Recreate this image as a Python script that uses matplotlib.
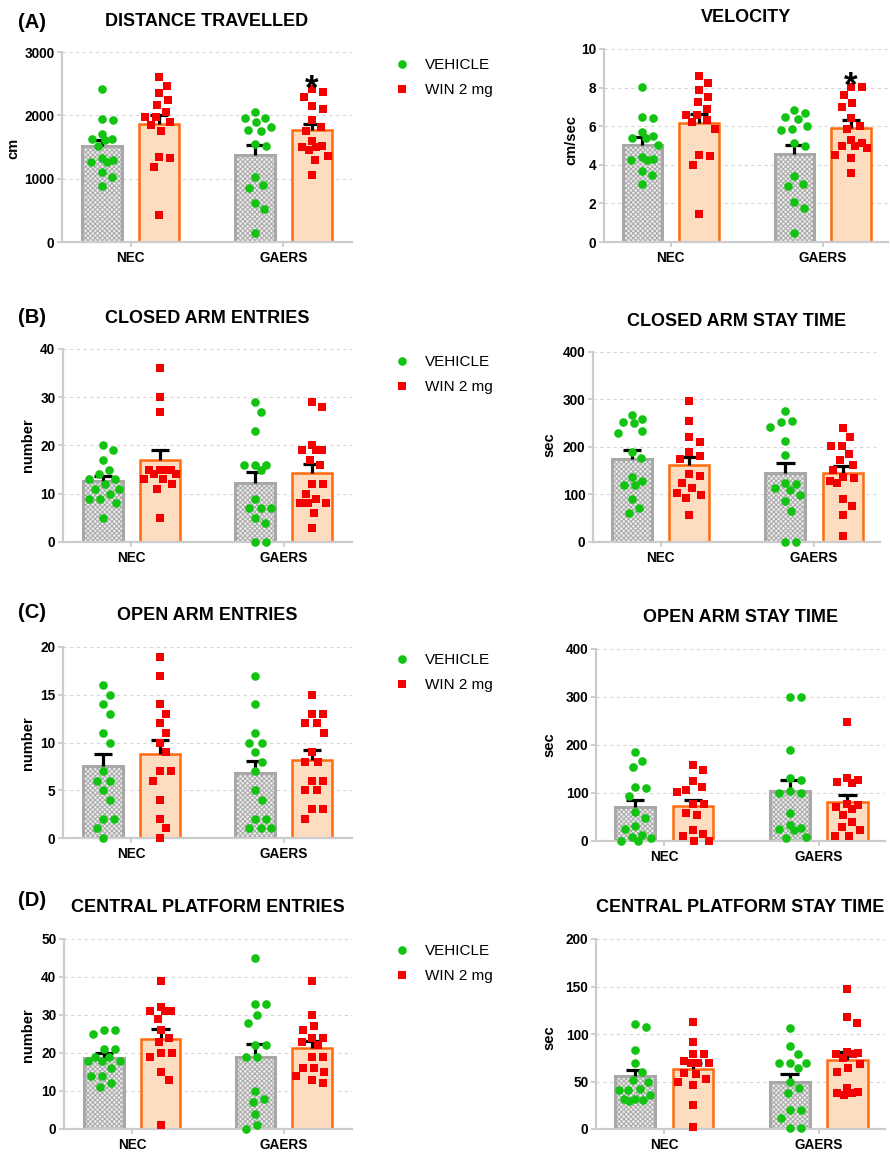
import matplotlib
matplotlib.use('Agg')
import matplotlib.pyplot as plt
from matplotlib.lines import Line2D
import numpy as np

plt.rcParams['font.family'] = ['Liberation Sans', 'DejaVu Sans']
plt.rcParams['hatch.linewidth'] = 0.7

groups = ['NEC', 'GAERS']
legend_labels = ['VEHICLE', 'WIN 2 mg']

# (A) distance travelled, cm
dist_nec_veh = [2410, 1950, 1920, 1710, 1620, 1620, 1610, 1510, 1320, 1290, 1270, 1270, 1110, 1030, 890]
dist_nec_win = [2600, 2470, 2350, 2240, 2170, 2060, 1980, 1970, 1890, 1850, 1760, 1350, 1320, 1190, 430]
dist_gaers_veh = [2050, 1960, 1960, 1900, 1820, 1770, 1750, 1540, 1510, 1020, 900, 860, 620, 520, 140]
dist_gaers_win = [2420, 2370, 2290, 2150, 2100, 1920, 1820, 1760, 1590, 1520, 1500, 1500, 1450, 1360, 1300, 1060]
dist_mean = [1520, 1860, 1370, 1770]
dist_sem = [90, 140, 155, 95]

# (A) velocity, cm/sec
vel_nec_veh = [8.05, 6.5, 6.4, 5.7, 5.5, 5.4, 5.4, 5.05, 4.4, 4.3, 4.25, 4.25, 3.7, 3.45, 3.0]
vel_nec_win = [8.6, 8.25, 7.85, 7.5, 7.25, 6.9, 6.6, 6.6, 6.3, 6.2, 5.85, 4.5, 4.45, 4.0, 1.45]
vel_gaers_veh = [6.85, 6.7, 6.5, 6.35, 6.0, 5.85, 5.8, 5.15, 5.0, 3.4, 3.0, 2.9, 2.05, 1.75, 0.45]
vel_gaers_win = [8.05, 8.05, 7.6, 7.2, 7.0, 6.4, 6.0, 5.85, 5.3, 5.15, 4.95, 4.95, 4.85, 4.5, 4.35, 3.55]
vel_mean = [5.05, 6.15, 4.55, 5.9]
vel_sem = [0.4, 0.5, 0.5, 0.4]

# (B) closed arm entries
cae_nec_veh = [20, 19, 17, 15, 14, 13, 13, 12, 11, 11, 10, 9, 9, 8, 5]
cae_nec_win = [36, 30, 27, 15, 15, 15, 15, 14, 14, 13, 13, 12, 11, 5]
cae_gaers_veh = [29, 27, 23, 16, 16, 16, 15, 9, 7, 7, 7, 5, 4, 0, 0]
cae_gaers_win = [29, 28, 20, 19, 19, 19, 17, 16, 12, 12, 10, 9, 8, 8, 8, 6, 3]
cae_mean = [12.6, 17.0, 12.3, 14.3]
cae_sem = [1.1, 2.0, 2.3, 1.9]

# (B) closed arm stay time, sec
cat_nec_veh = [268, 259, 252, 250, 233, 230, 190, 176, 136, 128, 119, 119, 91, 72, 60]
cat_nec_win = [297, 255, 220, 210, 189, 180, 174, 144, 139, 125, 113, 104, 99, 93, 57]
cat_gaers_veh = [275, 255, 252, 242, 213, 184, 125, 123, 113, 110, 98, 87, 66, 0, 0]
cat_gaers_win = [239, 220, 203, 202, 185, 172, 162, 152, 136, 134, 129, 125, 90, 75, 56, 12]
cat_mean = [175, 162, 145, 145]
cat_sem = [18, 17, 22, 15]

# (C) open arm entries
oae_nec_veh = [16, 15, 14, 13, 11, 10, 7, 6, 6, 5, 4, 2, 2, 1, 0]
oae_nec_win = [19, 17, 14, 13, 12, 11, 10, 9, 7, 7, 6, 4, 2, 1, 0]
oae_gaers_veh = [17, 14, 11, 10, 10, 9, 8, 7, 5, 4, 2, 2, 1, 1, 1]
oae_gaers_win = [15, 13, 13, 12, 12, 11, 9, 8, 8, 6, 6, 5, 5, 3, 3, 2]
oae_mean = [7.5, 8.8, 6.8, 8.2]
oae_sem = [1.3, 1.45, 1.3, 1.0]

# (C) open arm stay time, sec
oat_nec_veh = [186, 167, 154, 113, 111, 93, 60, 47, 32, 24, 12, 8, 7, 1, 0]
oat_nec_win = [159, 147, 126, 112, 107, 103, 78, 77, 58, 54, 23, 14, 10, 0, 0]
oat_gaers_veh = [300, 300, 189, 132, 128, 104, 101, 99, 59, 33, 28, 24, 22, 8, 6]
oat_gaers_win = [248, 131, 128, 122, 120, 77, 74, 71, 67, 54, 40, 29, 22, 10, 10]
oat_mean = [70, 73, 104, 81]
oat_sem = [15, 12, 24, 14]

# (D) central platform entries
cpe_nec_veh = [26, 26, 25, 21, 21, 19, 19, 18, 18, 18, 16, 14, 14, 12, 11]
cpe_nec_win = [39, 32, 31, 31, 31, 29, 26, 24, 23, 20, 20, 19, 15, 13, 1]
cpe_gaers_veh = [45, 33, 33, 30, 28, 22, 22, 19, 19, 10, 8, 7, 4, 1, 0]
cpe_gaers_win = [39, 30, 27, 26, 24, 24, 23, 22, 19, 19, 16, 16, 15, 14, 13, 12]
cpe_mean = [18.7, 23.6, 18.9, 21.2]
cpe_sem = [1.3, 2.6, 3.6, 1.9]

# (D) central platform stay time, sec
cpt_nec_veh = [111, 107, 83, 70, 60, 52, 50, 42, 41, 41, 36, 32, 32, 31, 30]
cpt_nec_win = [113, 92, 79, 79, 72, 70, 70, 69, 59, 58, 53, 49, 46, 25, 2]
cpt_gaers_veh = [106, 87, 79, 70, 70, 70, 64, 50, 43, 38, 20, 20, 12, 1, 1]
cpt_gaers_win = [147, 118, 112, 81, 80, 79, 79, 75, 68, 64, 60, 43, 39, 38, 38, 36]
cpt_mean = [56, 63, 49.5, 73]
cpt_sem = [6.5, 7, 8, 8]

W, H = 890, 1153
fig = plt.figure(figsize=(W / 100, H / 100), dpi=100)

GREEN = '#12c312'
RED = '#f50000'
VEH_EDGE = '#a8a8a8'
VEH_FACE = '#ececec'
WIN_FACE = '#fddcc0'
WIN_EDGE = '#ff6a10'
AXIS_GRAY = '#cccccc'
OFFSET = 0.187
BAR_W = 0.26
CAP = 0.06


def px_axes(x0, x1, y0, y1):
    return fig.add_axes([x0 / W, 1 - y1 / H, (x1 - x0) / W, (y1 - y0) / H])


def swarm(ax, x0, vals, sx=11.0, sy=11.5, max_off=16):
    # beeswarm in pixel space, wider in x than in y like the Prism scatter
    pts = ax.transData.transform(np.column_stack([np.full(len(vals), x0), vals]))
    cx = pts[0, 0]
    cands = [0.0]
    for k in np.arange(0.5, max_off + 0.01, 0.5):
        cands += [k, -k]
    placed = []
    out = []
    for y in pts[:, 1]:
        best = None
        for off in cands:
            if all(((off - po) / sx) ** 2 + ((y - py) / sy) ** 2 >= 1 for po, py in placed):
                best = off
                break
        if best is None:
            # no free spot: take the least crowded one
            best = max(cands, key=lambda o: min([((o - po) / sx) ** 2 + ((y - py) / sy) ** 2
                                                  for po, py in placed] or [9]))
        placed.append((best, y))
        out.append(ax.transData.inverted().transform((cx + best, y))[0])
    return out


def panel(ax, xlim, ymax, ystep, pts, means, sems, star=False):
    ax.set_xlim(*xlim)
    ax.set_ylim(0, ymax)
    ax.set_axisbelow(True)
    ax.yaxis.grid(True, linestyle=(0, (3, 3)), color='#d8d8d8', linewidth=0.8)
    for s in ['top', 'right']:
        ax.spines[s].set_visible(False)
    for s in ['left', 'bottom']:
        ax.spines[s].set_color(AXIS_GRAY)
        ax.spines[s].set_linewidth(1.6)
    yt = np.arange(0, ymax + ystep / 2, ystep)
    ax.set_yticks(yt)
    ax.set_yticklabels([('%g' % v) for v in yt], fontweight='bold', fontsize=9.8)
    ax.set_xticks([0, 1])
    ax.set_xticklabels(groups, fontweight='bold', fontsize=9.8)
    ax.tick_params(axis='both', color=AXIS_GRAY, length=3.5, width=1.3)
    ax.tick_params(axis='y', pad=2)
    ax.tick_params(axis='x', pad=3)

    for i in range(2):
        xv, xw = i - OFFSET, i + OFFSET
        ax.bar(xv, means[2 * i], width=BAR_W, facecolor=VEH_FACE, edgecolor=VEH_EDGE,
               hatch='xxxxxxx', linewidth=2.2, zorder=2)
        ax.bar(xw, means[2 * i + 1], width=BAR_W, facecolor=WIN_FACE, edgecolor=WIN_EDGE,
               linewidth=1.8, zorder=2)
        # SEM, upper half only
        for x, m, e in [(xv, means[2 * i], sems[2 * i]), (xw, means[2 * i + 1], sems[2 * i + 1])]:
            ax.plot([x, x], [m, m + e], color='black', linewidth=2.3, zorder=2.5,
                    solid_capstyle='butt')
            ax.plot([x - CAP, x + CAP], [m + e, m + e], color='black', linewidth=2.3,
                    zorder=2.5, solid_capstyle='butt')
        vv, ww = pts[2 * i], pts[2 * i + 1]
        ax.plot(swarm(ax, xv, vv), vv, 'o', color=GREEN, markersize=6.2,
                markeredgewidth=0, zorder=3, clip_on=False)
        ax.plot(swarm(ax, xw, ww), ww, 's', color=RED, markersize=5.6,
                markeredgewidth=0, zorder=3, clip_on=False)
    if star:
        ax.annotate('*', xy=(1 + OFFSET, max(pts[3])), xytext=(0, -7), textcoords='offset points',
                    ha='center', va='baseline', fontsize=25, fontweight='bold')


def legend_at(y):
    h = [Line2D([], [], marker='o', color=GREEN, linestyle='none', markersize=6.2, markeredgewidth=0),
         Line2D([], [], marker='s', color=RED, linestyle='none', markersize=5.6, markeredgewidth=0)]
    fig.legend(h, legend_labels, loc='upper left', bbox_to_anchor=(394 / W, 1 - y / H),
               frameon=False, fontsize=11, handlelength=1.0, handletextpad=1.05,
               labelspacing=0.75, borderpad=0, borderaxespad=0)


def ftext(x, y, s, **kw):
    fig.text(x / W, 1 - y / H, s, ha='center', va='center', fontweight='bold', **kw)


XL_LEFT = (-0.45, 1.45)
XL_RIGHT = (-0.44, 1.43)

rows = [
    # label, y of label, left panel, right panel, legend top
    ('(A)', 22,
     (62, 352, 52, 242, 'DISTANCE TRAVELLED', 22, 'cm', 13, 148, 3000, 1000,
      [dist_nec_veh, dist_nec_win, dist_gaers_veh, dist_gaers_win], dist_mean, dist_sem, True),
     (604, 888, 49, 242, 'VELOCITY', 18, 'cm/sec', 571, 140, 10, 2,
      [vel_nec_veh, vel_nec_win, vel_gaers_veh, vel_gaers_win], vel_mean, vel_sem, True),
     58),
    ('(B)', 317,
     (63, 352, 349, 542, 'CLOSED ARM ENTRIES', 318, 'number', 28, 445, 40, 10,
      [cae_nec_veh, cae_nec_win, cae_gaers_veh, cae_gaers_win], cae_mean, cae_sem, False),
     (593, 880, 352, 542, 'CLOSED ARM STAY TIME', 321, 'sec', 549, 445, 400, 100,
      [cat_nec_veh, cat_nec_win, cat_gaers_veh, cat_gaers_win], cat_mean, cat_sem, False),
     355),
    ('(C)', 613,
     (63, 352, 647, 838, 'OPEN ARM ENTRIES', 615, 'number', 28, 743, 20, 5,
      [oae_nec_veh, oae_nec_win, oae_gaers_veh, oae_gaers_win], oae_mean, oae_sem, False),
     (596, 885, 649, 841, 'OPEN ARM STAY TIME', 618, 'sec', 549, 745, 400, 100,
      [oat_nec_veh, oat_nec_win, oat_gaers_veh, oat_gaers_win], oat_mean, oat_sem, False),
     653),
    ('(D)', 901,
     (64, 352, 939, 1129, 'CENTRAL PLATFORM ENTRIES', 907, 'number', 28, 1035, 50, 10,
      [cpe_nec_veh, cpe_nec_win, cpe_gaers_veh, cpe_gaers_win], cpe_mean, cpe_sem, False),
     (596, 885, 939, 1129, 'CENTRAL PLATFORM STAY TIME', 908, 'sec', 549, 1038, 200, 50,
      [cpt_nec_veh, cpt_nec_win, cpt_gaers_veh, cpt_gaers_win], cpt_mean, cpt_sem, False),
     944),
]

for lab, ly, left, right, legy in rows:
    ftext(32, ly, lab, fontsize=14.5)
    for spec, xl in [(left, XL_LEFT), (right, XL_RIGHT)]:
        x0, x1, y0, y1, title, ty, ylab, lx, lyy, ymax, ystep, pts, means, sems, star = spec
        ax = px_axes(x0, x1, y0, y1)
        panel(ax, xl, ymax, ystep, pts, means, sems, star)
        ftext((x0 + x1) / 2, ty, title, fontsize=13)
        ftext(lx, lyy, ylab, fontsize=10.5, rotation=90)
    legend_at(legy)

fig.savefig('out.png', dpi=100)
